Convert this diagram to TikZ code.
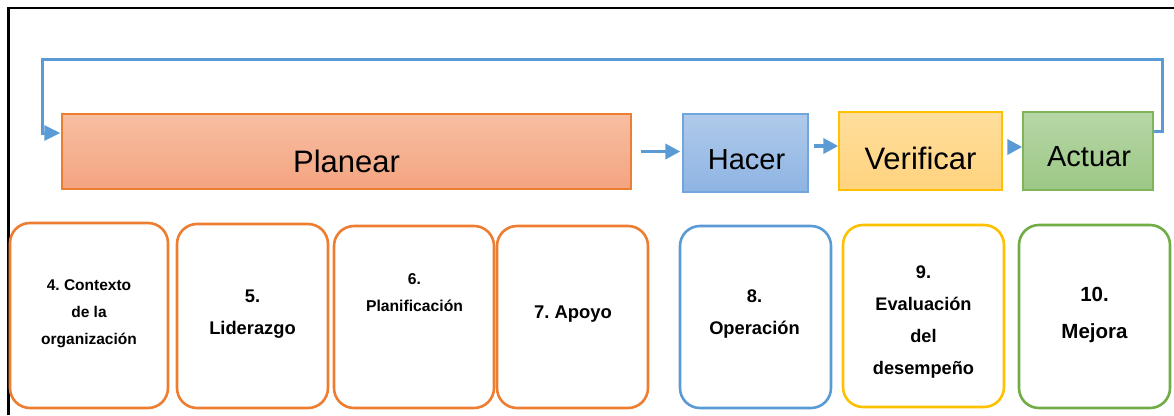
\documentclass[tikz,border=0pt]{standalone}
\usepackage{fontspec}
\setmainfont{Liberation Sans}
\usetikzlibrary{arrows.meta,calc}
\frenchspacing

\definecolor{cOrange}{HTML}{ED7D31}
\definecolor{cBlue}{HTML}{5B9BD5}
\definecolor{cBlueEdge}{HTML}{72A5DB}
\definecolor{cGold}{HTML}{FFC000}
\definecolor{cGreen}{HTML}{70AD47}
\definecolor{cGreenEdge}{HTML}{7FB55A}
\definecolor{cArrow}{HTML}{5B9BD5}
\definecolor{planTop}{HTML}{F7BEA2}
\definecolor{planBot}{HTML}{F4A480}
\definecolor{doTop}{HTML}{B0CAEA}
\definecolor{doBot}{HTML}{8EB4E3}
\definecolor{chkTop}{HTML}{FFDE9C}
\definecolor{chkBot}{HTML}{FFD37E}
\definecolor{actTop}{HTML}{B6D7A6}
\definecolor{actBot}{HTML}{9CC785}

\tikzset{
  phase/.style={rectangle, inner sep=0pt, line width=1.4pt},
  clause/.style={rectangle, rounded corners=20pt, draw, line width=2.6pt,
                 fill=white, inner sep=0pt},
  flow/.style={draw=cArrow, line width=3.6pt,
               -{Triangle[length=15pt,width=15pt]}},
  loopline/.style={draw=cArrow, line width=3pt,
               -{Triangle[length=16pt,width=15pt]}},
  phasetext/.style={anchor=base, inner sep=0pt},
  % base anchor of a multi-line node sits on its last line
  clausetext/.style={anchor=base, inner sep=0pt, align=center}
}

\begin{document}
\begin{tikzpicture}[x=1pt, y=-1pt]
\useasboundingbox (0,0) rectangle (1174,415);

% outer frame (top and left edges)
\draw[line width=2.5pt] (8.5,415) -- (8.5,8) -- (1174,8);

% PHVA phases
\node[phase, draw=cOrange, top color=planTop, bottom color=planBot,
      minimum width=569pt, minimum height=75pt] (planear) at (346.5,151.5) {};
\node[phase, draw=cBlueEdge, top color=doTop, bottom color=doBot,
      minimum width=125pt, minimum height=78pt] (hacer) at (745.5,153) {};
\node[phase, draw=cGold, top color=chkTop, bottom color=chkBot,
      minimum width=163pt, minimum height=78pt] (verificar) at (920.5,151) {};
\node[phase, draw=cGreenEdge, top color=actTop, bottom color=actBot,
      minimum width=130pt, minimum height=78pt] (actuar) at (1088,151) {};

\node[phasetext, font=\fontsize{31}{36}\selectfont] (planear-t) at (346.5,172) {Planear};
\node[phasetext, font=\fontsize{29}{34}\selectfont] (hacer-t) at (746.5,169) {Hacer};
\node[phasetext, font=\fontsize{31}{36}\selectfont] (verificar-t) at (920.5,169) {Verificar};
\node[phasetext, font=\fontsize{29}{34}\selectfont] (actuar-t) at (1089,166) {Actuar};

% forward arrows between phases
\draw[flow] ([xshift=9pt]planear.east) -- ([xshift=-2pt]hacer.west |- planear.east);
\draw[flow] ([xshift=5pt,yshift=7pt]hacer.east) -- ([yshift=7pt]hacer.east -| verificar.west);
\draw[flow] ([xshift=6pt,yshift=4pt]verificar.east) -- ([yshift=4pt]verificar.east -| actuar.west);

% feedback loop from Actuar back to Planear
\draw[loopline] ([yshift=20pt]actuar.east) -- ++(8.5,0) |- (42,59)
                |- ([yshift=18.5pt,xshift=-1pt]planear.west);

% ISO clauses
\node[clause, draw=cOrange, minimum width=158pt, minimum height=185pt] (c4) at (89,315.5) {};
\node[clause, draw=cOrange, minimum width=151pt, minimum height=184pt] (c5) at (252.5,316) {};
\node[clause, draw=cOrange, minimum width=160pt, minimum height=182pt] (c6) at (414,317) {};
\node[clause, draw=cOrange, minimum width=151pt, minimum height=182pt] (c7) at (572.5,317) {};
\node[clause, draw=cBlue, minimum width=151pt, minimum height=182pt] (c8) at (755.5,317) {};
\node[clause, draw=cGold, minimum width=161pt, minimum height=182pt] (c9) at (923.5,316) {};
\node[clause, draw=cGreen, minimum width=151pt, minimum height=183pt] (c10) at (1094.5,316.5) {};

\node[clausetext, font=\bfseries\fontsize{15.5}{27}\selectfont] (c4-t) at (89,344)
  {4. Contexto\\de la\\organización};
\node[clausetext, font=\bfseries\fontsize{18.3}{32}\selectfont] (c5-t) at (252.5,334)
  {5.\\Liderazgo};
\node[clausetext, font=\bfseries\fontsize{15.7}{27}\selectfont] (c6-t) at (414.5,311)
  {6.\\Planificación};
\node[clausetext, font=\bfseries\fontsize{18.4}{32}\selectfont] (c7-t) at (573,318)
  {7. Apoyo};
\node[clausetext, font=\bfseries\fontsize{18.3}{32}\selectfont] (c8-t) at (754.5,334)
  {8.\\Operación};
\node[clausetext, font=\bfseries\fontsize{18.2}{32}\selectfont] (c9-t) at (923.5,374)
  {9.\\Evaluación\\del\\desempeño};
\node[clausetext, font=\bfseries\fontsize{20.5}{37}\selectfont] (c10-t) at (1094.5,338)
  {10.\\Mejora};
\end{tikzpicture}
\end{document}
